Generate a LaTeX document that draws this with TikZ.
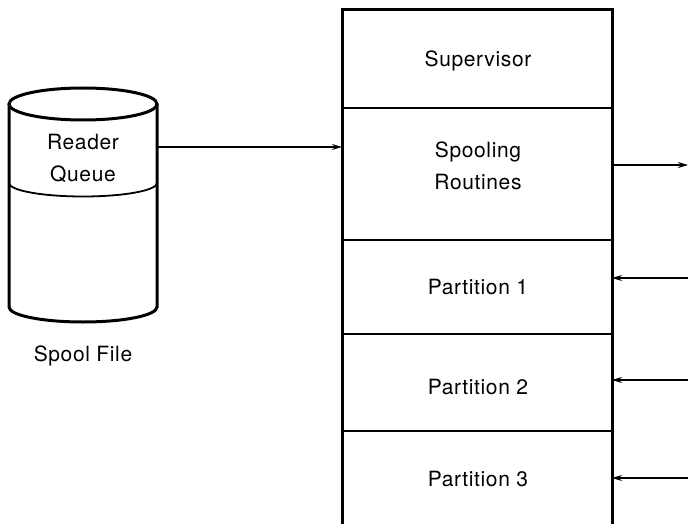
\documentclass[tikz,border=0pt]{standalone}
\usepackage{fontspec}
\setmainfont{TeX Gyre Heros}[LetterSpace=3]
\usetikzlibrary{arrows.meta}
\begin{document}
\begin{tikzpicture}[x=1pt,y=-1pt,
  lbl/.style={font=\fontsize{21}{32}\selectfont, inner sep=0pt, align=center},
  heavy/.style={line width=3pt},
  thin/.style={line width=1.8pt},
  conn/.style={line width=1.4pt, -{Stealth[length=10pt,width=6pt]}}]
\useasboundingbox (0,0) rectangle (688,524);
% spool file cylinder
\draw[heavy] (83,104) ellipse [x radius=74, y radius=16];
\draw[heavy] (9,104) -- (9,307) arc[start angle=180, end angle=0, x radius=74, y radius=15] -- (157,104);
\draw[thin] (9,183) arc[start angle=180, end angle=0, x radius=74, y radius=13.5];
\node[lbl] (rq) at (83,158) {Reader\\Queue};
\node[lbl] (sf) at (83,356) {Spool File};
\coordinate (cylr) at (157,147);
% main storage box
\draw[thin] (342,108) -- (612,108);
\draw[thin] (342,240) -- (612,240);
\draw[thin] (342,334) -- (612,334);
\draw[thin] (342,431) -- (612,431);
\draw[heavy] (342,530) -- (342,10) -- (612,10) -- (612,530);
\node[lbl] (sup) at (478,61) {Supervisor};
\node[lbl] (spr) at (478,166) {Spooling\\Routines};
\node[lbl] (p1) at (478,287) {Partition 1};
\node[lbl] (p2) at (478,387) {Partition 2};
\node[lbl] (p3) at (478,479) {Partition 3};
\coordinate (boxl) at (342,147);
\coordinate (spre) at (612,165);
\coordinate (p1e) at (612,278);
\coordinate (p2e) at (612,380);
\coordinate (p3e) at (612,478);
\coordinate (o0) at (688,165);
\coordinate (o1) at (688,278);
\coordinate (o2) at (688,380);
\coordinate (o3) at (688,478);
\draw[conn] (cylr) -- (boxl);
\draw[conn] (spre) -- (o0);
\draw[conn] (o1) -- (p1e);
\draw[conn] (o2) -- (p2e);
\draw[conn] (o3) -- (p3e);
\end{tikzpicture}
\end{document}
